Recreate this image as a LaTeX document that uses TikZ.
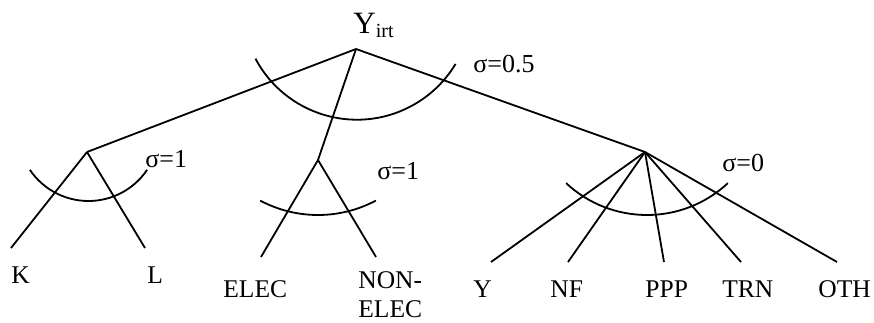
\documentclass[tikz,border=0pt]{standalone}
\usepackage{fontspec}
\setmainfont{Liberation Serif}
\usetikzlibrary{positioning}

\begin{document}
\begin{tikzpicture}[x=0.5pt, y=-0.5pt, every node/.style={inner sep=0pt, anchor=base west, font=\fontsize{12.75}{15}\selectfont}, branch/.style={line width=0.9pt}, nest/.style={line width=0.9pt}, sig/.style={font=\fontsize{13}{15}\selectfont}]
    \useasboundingbox (0,0) rectangle (874,322);

    \coordinate (top) at (356,49);
    \coordinate (kl) at (87,152);
    \coordinate (en) at (318,160);
    \coordinate (mat) at (645,152);

    \coordinate (kend) at (11,248);
    \coordinate (lend) at (145,248);
    \coordinate (elecend) at (261,257);
    \coordinate (nelecend) at (376,257);
    \coordinate (yend) at (491,262);
    \coordinate (nfend) at (568,262);
    \coordinate (pppend) at (664,262);
    \coordinate (trnend) at (741,262);
    \coordinate (othend) at (837,262);

    \node (yirt) [font=\fontsize{15.5}{18}\selectfont] at (353,33) {Y\raisebox{-2pt}{\fontsize{10}{12}\selectfont irt}};

    \node (k) at (11,283) {K};
    \node (l) at (147,283) {L};
    \node (elec) at (223,297) {ELEC};
    \node (nelec) [align=left] at (358,317) {NON-\\[-0.5pt]ELEC};
    \node (y) at (473,297) {Y};
    \node (nf) at (550,297) {NF};
    \node (ppp) at (645,297) {PPP};
    \node (trn) at (722,297) {TRN};
    \node (oth) at (818,297) {OTH};

    \node (s0) [sig] at (473,72) {σ=0.5};
    \node (s1) [sig] at (145,167) {σ=1};
    \node (s2) [sig] at (377,179) {σ=1};
    \node (s3) [sig] at (722,171) {σ=0};

    \draw[branch] (top) -- (kl);
    \draw[branch] (top) -- (en);
    \draw[branch] (top) -- (mat);
    \draw[branch] (kl) -- (kend);
    \draw[branch] (kl) -- (lend);
    \draw[branch] (en) -- (elecend);
    \draw[branch] (en) -- (nelecend);
    \draw[branch] (mat) -- (yend);
    \draw[branch] (mat) -- (nfend);
    \draw[branch] (mat) -- (pppend);
    \draw[branch] (mat) -- (trnend);
    \draw[branch] (mat) -- (othend);

    \draw[nest] (357,4.7) ++(208:57.5pt) arc[start angle=208, end angle=329, radius=57.5pt];
    \draw[nest] (88.5,130.3) ++(214:35.35pt) arc[start angle=214, end angle=326, radius=35.35pt];
    \draw[nest] (318,91.8) ++(242:61.6pt) arc[start angle=242, end angle=298, radius=61.6pt];
    \draw[nest] (647,96.4) ++(227:59.3pt) arc[start angle=227, end angle=313, radius=59.3pt];
\end{tikzpicture}
\end{document}
